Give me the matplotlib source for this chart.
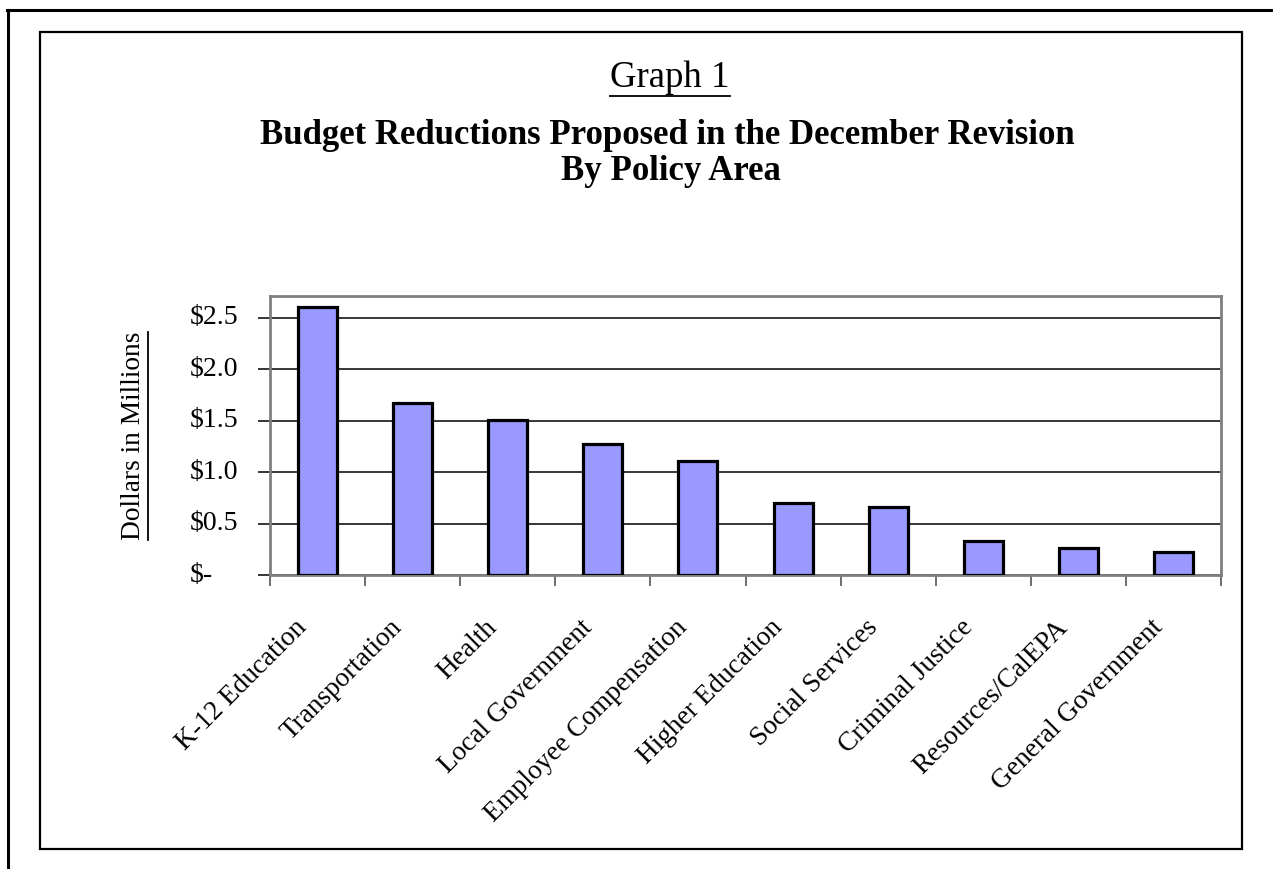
import numpy as np
import matplotlib
matplotlib.use('Agg')
import matplotlib.pyplot as plt
import matplotlib.transforms as mtransforms
from matplotlib.lines import Line2D
from matplotlib.patches import Rectangle

plt.rcParams['font.family'] = ['Liberation Serif', 'DejaVu Serif']

# data (millions of dollars)
categories = ['K-12 Education', 'Transportation', 'Health', 'Local Government',
              'Employee Compensation', 'Higher Education', 'Social Services',
              'Criminal Justice', 'Resources/CalEPA', 'General Government']
values = [2.60, 1.67, 1.51, 1.27, 1.11, 0.70, 0.66, 0.33, 0.26, 0.22]
yticks = [0.0, 0.5, 1.0, 1.5, 2.0, 2.5]
ytick_labels = ['$-', '$0.5', '$1.0', '$1.5', '$2.0', '$2.5']

W, H = 1273, 869
fig = plt.figure(figsize=(W / 100, H / 100), dpi=100)

# page frame: top and left rules, then inner chart box
fig.add_artist(Line2D([7 / W, 1], [1 - 10 / H, 1 - 10 / H], color='black', lw=2.2))
fig.add_artist(Line2D([8 / W, 8 / W], [0, 1 - 10 / H], color='black', lw=2.2))
fig.add_artist(Rectangle((40 / W, 1 - 849 / H), 1202 / W, 817 / H,
                         fill=False, ec='black', lw=1.6))

ax = fig.add_axes([270 / W, 1 - 575 / H, 951 / W, 279 / H])
x = np.arange(len(categories))
ax.bar(x, values, width=0.41, color='#9999FF', edgecolor='black', linewidth=2.3, zorder=3)

ax.set_xlim(-0.5, len(categories) - 0.5)
ax.set_ylim(0, 2.71)
ax.set_yticks(yticks)
ax.set_yticklabels([])
ax.yaxis.grid(True, color='black', lw=1.1, zorder=0)
ax.set_axisbelow(True)

# accounting-style labels: "$" flush left
ytr = ax.get_yaxis_transform()
for v, lab in zip(yticks, ytick_labels):
    ax.text(-80 / 951, v, lab, transform=ytr, ha='left', va='center', fontsize=20)

ax.set_xticks(np.arange(len(categories) + 1) - 0.5)
ax.set_xticklabels([])
ax.tick_params(axis='x', length=8, width=1.2, color='#555555')
ax.tick_params(axis='y', length=9, width=1.1, color='black')

xtr = ax.get_xaxis_transform() + mtransforms.ScaledTranslation(-0.23, -0.40, fig.dpi_scale_trans)
for i, lab in enumerate(categories):
    ax.text(i, 0, lab, transform=xtr, rotation=45, ha='right', va='top',
            rotation_mode='anchor', fontsize=19.6)

for s in ax.spines.values():
    s.set_color('#808080')
    s.set_linewidth(2)

ylab = fig.text(133 / W, 1 - 436 / H, 'Dollars in Millions', rotation=90,
                ha='center', va='center', fontsize=19.7)

t1 = fig.text(670 / W, 1 - 78 / H, 'Graph 1', ha='center', va='center', fontsize=26.5)
fig.text(667 / W, 1 - 135 / H, 'Budget Reductions Proposed in the December Revision',
         ha='center', va='center', fontsize=25, fontweight='bold')
fig.text(671 / W, 1 - 171 / H, 'By Policy Area', ha='center', va='center',
         fontsize=25, fontweight='bold')

# underline the two plain labels
fig.canvas.draw()
r = fig.canvas.get_renderer()
bb = t1.get_window_extent(r)
fig.add_artist(Line2D([bb.x0 / W, bb.x1 / W], [(bb.y0 - 1) / H] * 2, color='black', lw=1.3))
bb = ylab.get_window_extent(r)
fig.add_artist(Line2D([(bb.x1 + 2) / W] * 2, [bb.y0 / H, bb.y1 / H], color='black', lw=1.3))

fig.savefig('out.png', dpi=100)
